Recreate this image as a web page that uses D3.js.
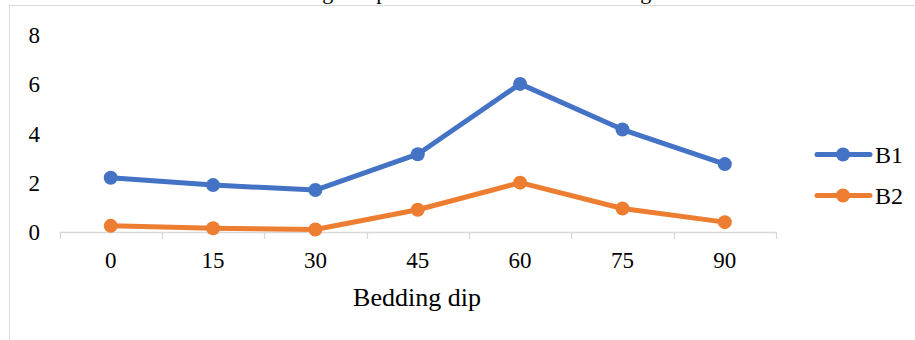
<!DOCTYPE html>
<html>
<head>
<meta charset="utf-8">
<script src="https://cdn.jsdelivr.net/npm/d3@7"></script>
<style>
  html, body { margin: 0; padding: 0; background: #fff; overflow: hidden; }
  svg { display: block; font-family: "Liberation Serif", "Times New Roman", serif; }
</style>
</head>
<body>
<svg id="chart" width="915" height="340"></svg>
<script>
// Bedding dip angles (degrees) along the x axis
const categories = ["0", "15", "30", "45", "60", "75", "90"];
// Series values
const seriesB1 = [2.2, 1.9, 1.7, 3.15, 6.0, 4.15, 2.75];
const seriesB2 = [0.25, 0.15, 0.1, 0.9, 2.0, 0.95, 0.4];
const seriesNames = ["B1", "B2"];
const yTicks = [0, 2, 4, 6, 8];
const chartTitle = "Cracking and pressure with different bedding";
const xAxisTitle = "Bedding dip";

const colors = ["#4472C4", "#ED7D31"];
const series = [seriesB1, seriesB2];

const svg = d3.select("#chart");

// outer chart frame
svg.append("rect")
  .attr("x", 9.5).attr("y", 5.5)
  .attr("width", 1000).attr("height", 400)
  .attr("fill", "#fff")
  .attr("stroke", "#d9d9d9").attr("stroke-width", 1);

// title sits above the frame
svg.append("text")
  .attr("x", 452).attr("y", -1)
  .attr("text-anchor", "middle")
  .attr("font-size", 22)
  .attr("fill", "#000")
  .text(chartTitle);

const plot = { left: 59.5, right: 776, top: 34.5, bottom: 232 };

const x = d3.scaleBand()
  .domain(categories)
  .range([plot.left, plot.right])
  .paddingInner(0).paddingOuter(0);

const y = d3.scaleLinear()
  .domain([0, 8])
  .range([plot.bottom, plot.top]);

// y tick labels (no axis line)
const yAxis = d3.axisLeft(y).tickValues(yTicks).tickSize(0).tickPadding(0);
const yG = svg.append("g").attr("transform", "translate(40,0)").call(yAxis);
yG.select(".domain").remove();
yG.selectAll("text")
  .attr("font-size", 23)
  .attr("font-family", "Liberation Serif, serif")
  .attr("fill", "#000")
  .attr("dy", "0.34em");

// x axis line with ticks at category boundaries
const xG = svg.append("g").attr("transform", `translate(0,${plot.bottom})`);
xG.append("line")
  .attr("x1", plot.left).attr("x2", plot.right)
  .attr("y1", 0.5).attr("y2", 0.5)
  .attr("stroke", "#d9d9d9").attr("stroke-width", 1.3);
const bounds = categories.map(c => x(c)).concat([plot.right]);
xG.selectAll("line.tick")
  .data(bounds)
  .join("line")
  .attr("class", "tick")
  .attr("x1", d => Math.round(d) + 0.5).attr("x2", d => Math.round(d) + 0.5)
  .attr("y1", 0).attr("y2", 7)
  .attr("stroke", "#d9d9d9").attr("stroke-width", 1.3);
xG.selectAll("text")
  .data(categories)
  .join("text")
  .attr("x", d => x(d) + x.bandwidth() / 2)
  .attr("y", 36)
  .attr("text-anchor", "middle")
  .attr("font-size", 23)
  .attr("fill", "#000")
  .text(d => d);

// x axis title
svg.append("text")
  .attr("x", 417).attr("y", 306)
  .attr("text-anchor", "middle")
  .attr("font-size", 26)
  .attr("fill", "#000")
  .text(xAxisTitle);

// lines and markers
const line = d3.line()
  .x((d, i) => x(categories[i]) + x.bandwidth() / 2)
  .y(d => y(d));

series.forEach((vals, si) => {
  svg.append("path")
    .datum(vals)
    .attr("d", line)
    .attr("fill", "none")
    .attr("stroke", colors[si])
    .attr("stroke-width", 5)
    .attr("stroke-linejoin", "round")
    .attr("stroke-linecap", "round");
  svg.append("g").selectAll("circle")
    .data(vals)
    .join("circle")
    .attr("cx", (d, i) => x(categories[i]) + x.bandwidth() / 2)
    .attr("cy", d => y(d))
    .attr("r", 7)
    .attr("fill", colors[si]);
});

// legend
const legend = svg.append("g");
seriesNames.forEach((name, i) => {
  const ly = 154.5 + i * 41;
  legend.append("line")
    .attr("x1", 817).attr("x2", 870)
    .attr("y1", ly).attr("y2", ly)
    .attr("stroke", colors[i]).attr("stroke-width", 5)
    .attr("stroke-linecap", "round");
  legend.append("circle")
    .attr("cx", 843).attr("cy", ly).attr("r", 7)
    .attr("fill", colors[i]);
  legend.append("text")
    .attr("x", 875).attr("y", ly)
    .attr("dy", "0.35em")
    .attr("font-size", 24)
    .attr("fill", "#000")
    .text(name);
});
</script>
</body>
</html>
